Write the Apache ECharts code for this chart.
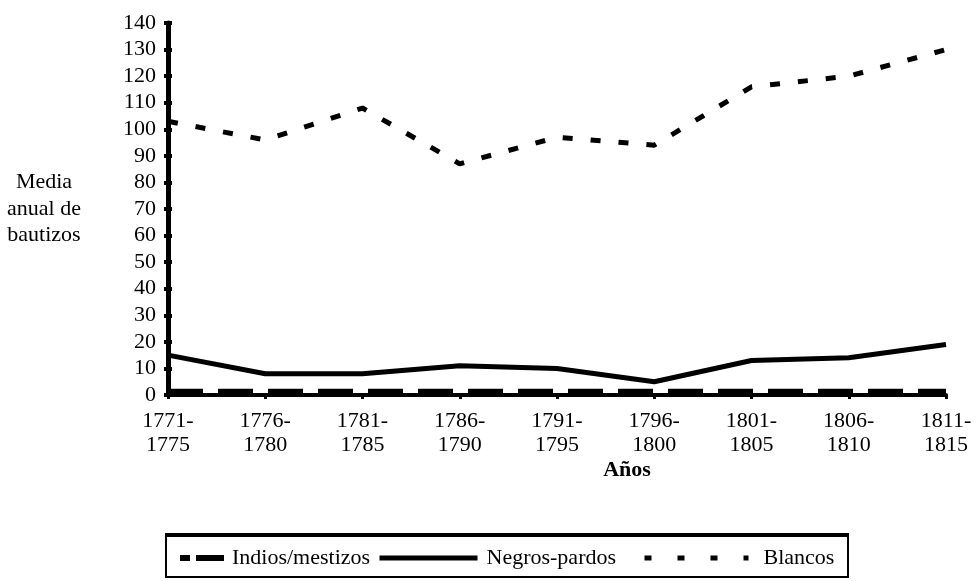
<!DOCTYPE html>
<html><head><meta charset="utf-8">
<script src="https://cdn.jsdelivr.net/npm/echarts@6/dist/echarts.min.js"></script>
<style>html,body{margin:0;padding:0;background:#fff}#c{width:979px;height:581px}</style>
</head><body><div id="c"></div>
<script>
// ---- data ----
const categories = ['1771-1775','1776-1780','1781-1785','1786-1790','1791-1795','1796-1800','1801-1805','1806-1810','1811-1815'];
const indiosMestizos = [1, 1, 1, 1, 1, 1, 1, 1, 1];
const negrosPardos = [15, 8, 8, 11, 10, 5, 13, 14, 19];
const blancos = [103, 96, 108, 87, 97, 94, 116, 120, 130];
const yMin = 0, yMax = 140, yInterval = 10;
const seriesNames = ['Indios/mestizos', 'Negros-pardos', 'Blancos'];
const yAxisTitle = 'Media\nanual de\nbautizos';
const xAxisTitle = 'Años';

// ---- chart ----
const FONT = '"Liberation Serif", "Times New Roman", serif';
const chart = echarts.init(document.getElementById('c'));
const lineStyles = [
  {color:'#000', width:7, type:[35,15]},
  {color:'#000', width:5, type:'solid'},
  {color:'#000', width:5, type:[10,18]}
];
const seriesData = [indiosMestizos, negrosPardos, blancos];
const txt = {color:'#000', fontFamily:FONT, fontSize:22};
const legendTop = 542;
const noSym = {opacity:0, borderWidth:0};
const option = {
  animation:false,
  backgroundColor:'#fff',
  grid:{left:168, right:33, top:23, bottom:186},
  xAxis:{type:'category', data:categories, boundaryGap:false,
    axisLine:{lineStyle:{color:'#000', width:4}},
    axisTick:{show:true, length:4, lineStyle:{color:'#000', width:3}},
    axisLabel:Object.assign({}, txt, {lineHeight:24, margin:14, interval:0, formatter:v=>v.replace('-', '-\n')}),
    splitLine:{show:false}},
  yAxis:[
    {type:'value', min:yMin, max:yMax, interval:yInterval,
     axisLine:{show:true, lineStyle:{color:'#000', width:5}},
     axisTick:{show:true, length:4, lineStyle:{color:'#000', width:4}},
     axisLabel:Object.assign({}, txt, {margin:12}),
     splitLine:{show:false}},
    {type:'value', min:yMin, max:yMax, interval:yInterval, position:'left',
     axisLine:{show:false},
     axisTick:{show:true, inside:true, length:4, lineStyle:{color:'#000', width:4}},
     axisLabel:{show:false}, splitLine:{show:false}}
  ],
  legend:[
    {data:[{name:seriesNames[0], itemStyle:noSym, lineStyle:{width:6, type:[10,6,28,6]}}], left:172, top:legendTop, itemWidth:44, itemHeight:16,
     textStyle:Object.assign({}, txt, {padding:[0,0,0,3]}), selectedMode:false},
    {data:[{name:seriesNames[1], itemStyle:noSym, lineStyle:{width:5}}], left:372, top:legendTop, itemWidth:98, itemHeight:16,
     textStyle:Object.assign({}, txt, {padding:[0,0,0,4]}), selectedMode:false},
    {data:[{name:seriesNames[2], itemStyle:noSym, lineStyle:{width:5, type:[7,26]}}], left:637, top:legendTop, itemWidth:104, itemHeight:16,
     textStyle:Object.assign({}, txt, {padding:[0,0,0,10]}), selectedMode:false}
  ],
  series: seriesNames.map((n,i)=>({
    name:n, type:'line', data:seriesData[i], yAxisIndex:0,
    symbol:'none', lineStyle:lineStyles[i], itemStyle:{color:'#000'}, z:3
  })),
  graphic:[
    {type:'text', x:44, y:209, style:{text:yAxisTitle, font:'22px '+FONT, fill:'#000', align:'center', verticalAlign:'middle', lineHeight:26.5}},
    {type:'text', x:627, y:470, style:{text:xAxisTitle, font:'bold 22px '+FONT, fill:'#000', align:'center', verticalAlign:'middle'}},
    {type:'rect', shape:{x:166, y:535, width:682, height:42}, style:{fill:'none', stroke:'#000', lineWidth:2}},
    {type:'line', shape:{x1:165, y1:535, x2:849, y2:535}, style:{stroke:'#000', lineWidth:4}}
  ]
};
chart.setOption(option);
</script></body></html>
